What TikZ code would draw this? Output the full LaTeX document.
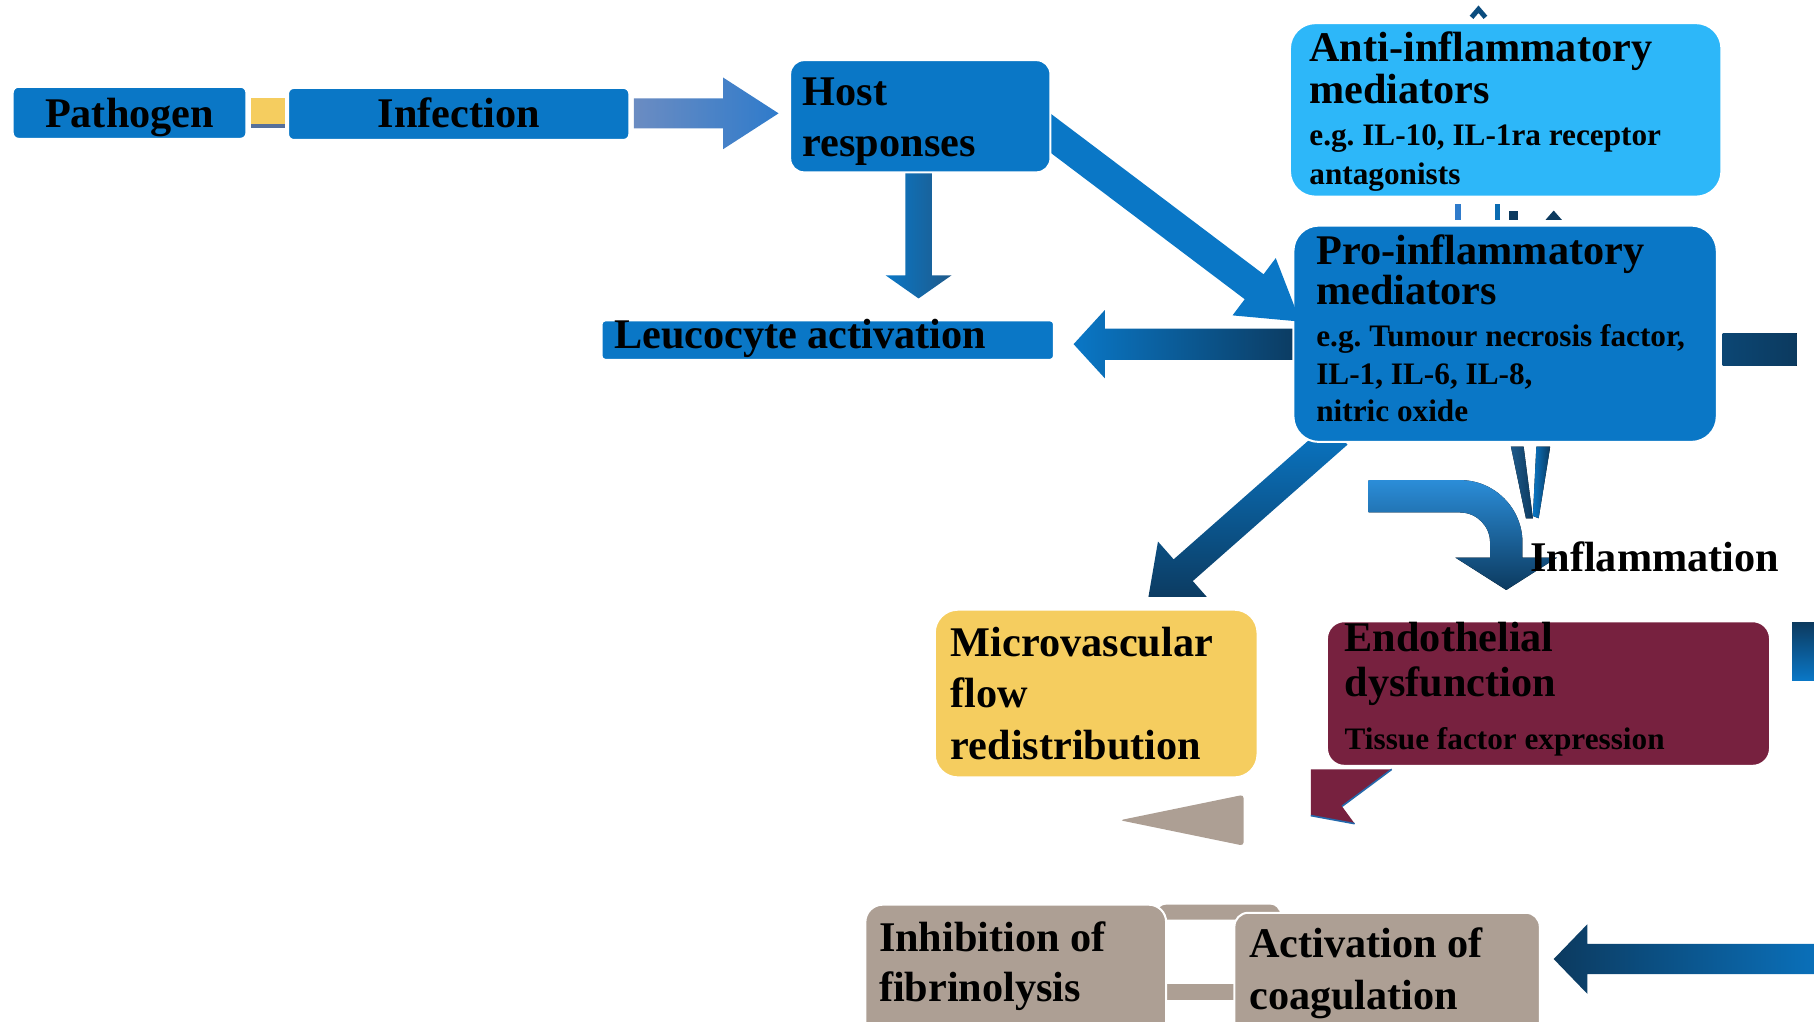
\documentclass[tikz,border=0pt]{standalone}
\usepackage{fontspec}
\setmainfont{Liberation Serif}
\usepackage{xcolor}
\definecolor{cBlue}{HTML}{0A77C6}
\definecolor{cSky}{HTML}{2DB7F9}
\definecolor{cNavy}{HTML}{0C3A5F}
\definecolor{cDeep}{HTML}{1F5A8A}
\definecolor{cGold}{HTML}{F5CD5F}
\definecolor{cWine}{HTML}{77213F}
\definecolor{cTaupe}{HTML}{AD9F94}
\definecolor{cSteel}{HTML}{6B8CC2}
\definecolor{cArrow}{HTML}{2F7BCB}
\definecolor{cLight}{HTML}{2B8DD8}
\usepackage{tikz}
\usetikzlibrary{calc,fit}
\setlength{\parindent}{0pt}
\setlength{\lineskiplimit}{-20pt}
\frenchspacing
\newcommand\bigtxt[1][12.5pt]{\fontsize{10.39pt}{#1}\selectfont\spaceskip=0pt\xspaceskip=0pt\relax}
\newcommand\smalltxt[1][9.4pt]{\fontsize{7.68pt}{#1}\selectfont\spaceskip=0pt\xspaceskip=0pt\relax}
\newcommand\topline{\rule{0pt}{8pt}}
% fat arrow: look, from, to, shaft half width, head half width, head length
\newcommand\blockarrow[6]{%
  \path[#1] let \p1=(#2), \p2=(#3), \n1={atan2(\y2-\y1,\x2-\x1)} in
    ($(\p1)+(\n1+90:#4)$) -- ($(\p2)+(\n1+180:#6)+(\n1+90:#4)$)
    -- ($(\p2)+(\n1+180:#6)+(\n1+90:#5)$) -- (\p2)
    -- ($(\p2)+(\n1+180:#6)+(\n1-90:#5)$) -- ($(\p2)+(\n1+180:#6)+(\n1-90:#4)$)
    -- ($(\p1)+(\n1-90:#4)$) -- cycle;}
\tikzset{
  box/.style={inner sep=0pt, draw=white, line width=0.5pt},
  box-blue/.style={box, fill=cBlue},
  box-sky/.style={box, fill=cSky},
  box-gold/.style={box, fill=cGold},
  box-wine/.style={box, fill=cWine},
  box-taupe/.style={box, fill=cTaupe},
  txt/.style={anchor=north west, inner sep=0pt, text width=5cm, align=left,
    font=\bfseries},
  txt-line/.style={inner sep=0pt, font=\bfseries\bigtxt},
}

\begin{document}
\begin{tikzpicture}[x=0.01cm, y=-0.01cm]
  \useasboundingbox (0,0) rectangle (1568,883);
  \clip (0,0) rectangle (1568,883);

  % arrows leaving the mediators
  \blockarrow{left color=cBlue, right color=cDeep}{794,140}{794,258}{1.15mm}{2.85mm}{2mm}
  \blockarrow{left color=cBlue, right color=cNavy}{1125,297.5}{928,297.5}{1.35mm}{2.95mm}{2.7mm}
  \begin{scope}
    \clip (900,370) rectangle (1200,516);
    \blockarrow{top color=cBlue, bottom color=cNavy}{1156.5,375}{992,520}{1.25mm}{3.3mm}{4.1mm}
  \end{scope}
  \fill[left color=cDeep, right color=cNavy] (1306,386) -- (1317,386) -- (1325,448) -- (1319,448) -- cycle;
  \fill[left color=cBlue, right color=cNavy] (1328,386) -- (1340,386) -- (1330,448) -- (1325,446) -- cycle;
  \fill[left color=cNavy!80!cBlue, right color=cNavy] (1489,288) rectangle (1553,316);

  \node[box-blue, rounded corners=2.2mm, fit={(1118,195) (1484,382)}] (pro) {};
  \node[txt] (pro-txt) at ([shift={(20,5.9)}]pro.north west)
    {{\bigtxt[9.84pt]\topline Pro-inflammatory\par mediators\par}\vspace{1pt}%
     {\smalltxt[9.25pt]e.g. Tumour necrosis factor,\par IL-1, IL-6, IL-8,\par nitric oxide\par}};

  \blockarrow{fill=cBlue}{900,109}{1124,278}{1.35mm}{3.1mm}{5mm}

  \node[box-blue, rounded corners=1.2mm, fit={(683,52) (908,149)}] (host) {};
  \node[txt] (host-txt) at ([shift={(11,11)}]host.north west)
    {\bigtxt[12.52pt]\topline Host\par responses\par};

  % anti-inflammatory side
  \draw[cNavy!70!cBlue, line width=1.2pt] (1272,15) -- (1278,8) -- (1284,15);
  \node[box-sky, rounded corners=2.2mm, fit={(1115,20) (1488,170)}] (anti) {};
  \node[txt] (anti-txt) at ([shift={(17,4.9)}]anti.north west)
    {{\bigtxt[9.39pt]\topline Anti-inflammatory\par mediators\par}\vspace{1pt}%
     {\smalltxt[9.39pt]e.g. IL-10, IL-1ra receptor\par antagonists\par}};
  \fill[cArrow] (1258,176) rectangle (1263,190);
  \fill[cBlue!80!cNavy] (1292,176) rectangle (1297,190);
  \fill[cNavy] (1304,182) rectangle (1312,190);
  \fill[cNavy] (1336,190) -- (1343,182) -- (1350,190) -- cycle;

  % infection chain
  \node[box-blue, rounded corners=0.5mm, fit={(11,75) (213,120)}] (pathogen) {};
  \node[txt-line, anchor=base] (pathogen-txt) at ([shift={(0,12.5)}]pathogen.center) {Pathogen};
  \node[box-blue, rounded corners=0.5mm, fit={(249,76) (544,121)}] (infection) {};
  \node[txt-line, anchor=base] (infection-txt) at ([shift={(0,11.5)}]infection.center) {Infection};
  \fill[cGold] (217,85) rectangle (246,107);
  \fill[cSteel!80!black] (217,107) rectangle (246,111);
  \blockarrow{left color=cSteel, right color=cArrow}{548,98}{673,98}{1.3mm}{3.1mm}{4.8mm}

  \node[box-blue, rounded corners=0.3mm, fit={(520,277) (911,311)}] (leuco) {};
  \node[txt-line, anchor=base west] (leuco-txt) at ([shift={(11,7)}]leuco.west) {Leucocyte activation};

  % inflammation
  \fill[top color=cLight, bottom color=cNavy] (1183,415) -- (1262,415)
    arc[start angle=-90, end angle=0, radius=54] -- (1316,482) -- (1346,482)
    -- (1302,510) -- (1258,482) -- (1288,482) -- (1288,469)
    arc[start angle=0, end angle=-90, radius=26] -- (1183,443) -- cycle;
  \node[txt-line, anchor=base west] (inflam) at (1322,494) {Inflammation};

  \node[box-gold, rounded corners=2mm, fit={(808,527) (1087,672)}] (micro) {};
  \node[txt] (micro-txt) at ([shift={(14,12.5)}]micro.north west)
    {\bigtxt[12.66pt]\topline Microvascular\par flow\par redistribution\par};

  \node[box-wine, rounded corners=1.5mm, fit={(1147,537) (1530,662)}] (endo) {};
  \node[txt] (endo-txt) at ([shift={(15.5,-1.6)}]endo.north west)
    {{\bigtxt[10.95pt]\topline Endothelial\par dysfunction\par}\vspace{3.7pt}%
     {\smalltxt[9.4pt]Tissue factor expression\par}};
  \fill[top color=cNavy, bottom color=cBlue] (1549,538) rectangle (1570,588);

  \fill[cWine] (1133,665) -- (1203,665) -- (1160,697) -- (1171,712) -- (1133,705) -- cycle;
  \draw[cArrow!70!cNavy, line width=0.4pt] (1203,665) -- (1160,697) (1133,705) -- (1171,712);
  \fill[cTaupe, rounded corners=0.3mm] (968,709) -- (1075,687) -- (1075,731) -- cycle;

  % coagulation
  \fill[cTaupe, rounded corners=0.8mm] (1000,782) rectangle (1106,795);
  \fill[cTaupe] (1005,851) rectangle (1070,864);
  \node[box-taupe, rounded corners=1.5mm, fit={(748,782) (1008,910)}] (inhib) {};
  \node[txt] (inhib-txt) at ([shift={(12,12.5)}]inhib.north west)
    {\bigtxt[12.35pt]\topline Inhibition of\par fibrinolysis\par};
  \node[box-taupe, rounded corners=1.2mm, fit={(1067,789) (1331,910)}] (activ) {};
  \node[txt] (activ-txt) at ([shift={(13,10.9)}]activ.north west)
    {\bigtxt[12.8pt]\topline Activation of\par coagulation\par};
  \blockarrow{left color=cNavy, right color=cBlue}{1600,829}{1343,829}{1.3mm}{3mm}{2.9mm}
\end{tikzpicture}
\end{document}
